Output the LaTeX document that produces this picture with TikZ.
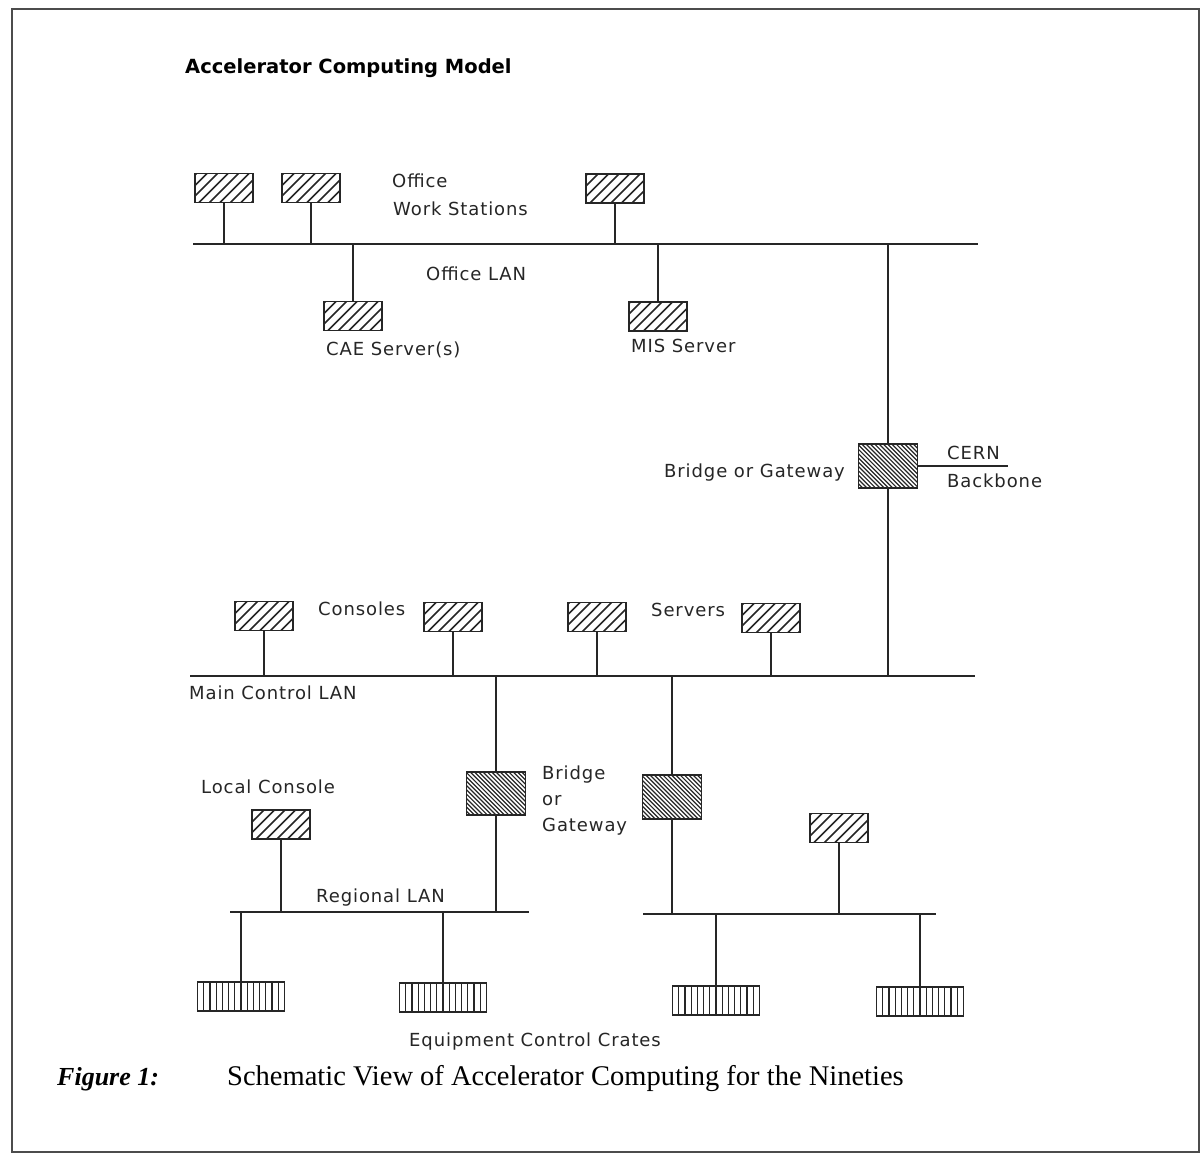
\documentclass[tikz,border=0pt]{standalone}
\usepackage{fontspec}
\setmainfont{Liberation Serif}
\newfontfamily\labfont[LetterSpace=5]{DejaVu Sans}
\newfontfamily\titfont{DejaVu Sans}
\begin{document}
\begin{tikzpicture}[x=1pt,y=-1pt,
  lan/.style={line width=2.2pt,black!85},
  drop/.style={line width=1.8pt,black!85},
  wsbox/.style={draw=black!85,line width=1.7pt,rectangle,inner sep=0pt,outer sep=0pt,
    minimum width=58pt,minimum height=29pt,
    path picture={\foreach \k in {-5,...,5}
      \draw[line width=1.5pt,black!85,shift={(path picture bounding box.center)}]
        (\k*10.5-18,18) -- ++(36,-36);}},
  gwbox/.style={draw=black!85,line width=1.7pt,rectangle,inner sep=0pt,outer sep=0pt,
    minimum width=59pt,minimum height=44pt,
    path picture={\foreach \k in {-13,...,13}
      \draw[line width=1.2pt,black!85,shift={(path picture bounding box.center)}]
        (\k*4.3-25,-25) -- ++(50,50);}},
  cratebox/.style={draw=black!85,line width=1.6pt,rectangle,inner sep=0pt,outer sep=0pt,
    minimum width=87pt,minimum height=29pt,
    path picture={\foreach \k in {-6,...,6}
      \draw[line width=1.2pt,black!85,shift={(path picture bounding box.center)}]
        (\k*6.2,-16) -- (\k*6.2,16);}},
  lab/.style={anchor=base west,inner sep=0pt,text=black!85,font=\labfont\fontsize{18}{22}\selectfont},
]
\useasboundingbox (0,0) rectangle (1202,1159);
\fill[white] (0,0) rectangle (1202,1159);
\draw[line width=1.5pt,black!70] (12,9) rectangle (1199,1152);

% title
\node[anchor=base west,inner sep=0pt,font=\titfont\bfseries\fontsize{19.5}{23}\selectfont] (title) at (185,73) {Accelerator Computing Model};

% Office LAN
\coordinate (olanL) at (193,244);
\coordinate (olanR) at (978,244);
\draw[lan] (olanL) -- (olanR);
\node[wsbox] (ws1) at (224,188) {};
\node[wsbox] (ws2) at (311,188) {};
\node[wsbox] (ws3) at (615,188.5) {};
\node[wsbox] (cae) at (353,316) {};
\node[wsbox] (mis) at (658,316.5) {};
\draw[drop] (ws1.south) -- (ws1.south |- olanL);
\draw[drop] (ws2.south) -- (ws2.south |- olanL);
\draw[drop] (ws3.south) -- (ws3.south |- olanL);
\draw[drop] (cae.north) -- (cae.north |- olanL);
\draw[drop] (mis.north) -- (mis.north |- olanL);
\node[lab] (tOffice) at (392,187) {Office};
\node[lab] (tWork) at (393,215) {Work Stations};
\node[lab] (tOLAN) at (426,280) {Office LAN};
\node[lab] (tCAE) at (326,355) {CAE Server(s)};
\node[lab] (tMIS) at (631,352) {MIS Server};

% bridge to CERN
\node[gwbox] (gw1) at (888,466) {};
\coordinate (cernR) at (1008,466);
\draw[drop] (gw1.east) -- (cernR);
\node[lab] (tBG1) at (664,477) {Bridge or Gateway};
\node[lab] (tCERN) at (947,459) {CERN};
\node[lab] (tBack) at (947,487) {Backbone};

% Main control LAN
\coordinate (mlanL) at (190,676);
\coordinate (mlanR) at (975,676);
\draw[lan] (mlanL) -- (mlanR);
\draw[drop] (gw1.north) -- (gw1.north |- olanL);
\draw[drop] (gw1.south) -- (gw1.south |- mlanL);
\node[wsbox] (con1) at (264,616) {};
\node[wsbox] (con2) at (453,617) {};
\node[wsbox] (srv1) at (597,617) {};
\node[wsbox] (srv2) at (771,618) {};
\draw[drop] (con1.south) -- (con1.south |- mlanL);
\draw[drop] (con2.south) -- (con2.south |- mlanL);
\draw[drop] (srv1.south) -- (srv1.south |- mlanL);
\draw[drop] (srv2.south) -- (srv2.south |- mlanL);
\node[lab] (tCons) at (318,615) {Consoles};
\node[lab] (tServ) at (651,616) {Servers};
\node[lab] (tMLAN) at (189,699) {Main Control LAN};

% regional LAN 1
\coordinate (rlanL) at (230,912);
\coordinate (rlanR) at (529,912);
\draw[lan] (rlanL) -- (rlanR);
\node[gwbox,minimum height=43pt] (gw2) at (496,793.5) {};
\draw[drop] (gw2.north) -- (gw2.north |- mlanL);
\draw[drop] (gw2.south) -- (gw2.south |- rlanL);
\node[lab] (tBr) at (542,779) {Bridge};
\node[lab] (tOr) at (542,805) {or};
\node[lab] (tGw) at (542,831) {Gateway};
\node[wsbox] (lc) at (281,824.5) {};
\draw[drop] (lc.south) -- (lc.south |- rlanL);
\node[lab] (tLC) at (201,793) {Local Console};
\node[lab] (tRLAN) at (316,902) {Regional LAN};
\node[cratebox] (cr1) at (241,996.5) {};
\node[cratebox] (cr2) at (443,997.5) {};
\draw[drop] (cr1.north) -- (cr1.north |- rlanL);
\draw[drop] (cr2.north) -- (cr2.north |- rlanL);

% regional LAN 2
\coordinate (r2L) at (643,914);
\coordinate (r2R) at (936,914);
\draw[lan] (r2L) -- (r2R);
\node[gwbox] (gw3) at (672,797) {};
\draw[drop] (gw3.north) -- (gw3.north |- mlanL);
\draw[drop] (gw3.south) -- (gw3.south |- r2L);
\node[wsbox] (rws) at (839,828) {};
\draw[drop] (rws.south) -- (rws.south |- r2L);
\node[cratebox] (cr3) at (716,1000.5) {};
\node[cratebox] (cr4) at (920,1001.5) {};
\draw[drop] (cr3.north) -- (cr3.north |- r2L);
\draw[drop] (cr4.north) -- (cr4.north |- r2L);
\node[lab] (tEq) at (409,1046) {Equipment Control Crates};

% caption
\node[anchor=base west,inner sep=0pt,font=\itshape\bfseries\fontsize{26}{30}\selectfont] (capA) at (57,1085) {Figure 1:};
\node[anchor=base west,inner sep=0pt,font=\fontsize{28.5}{33}\selectfont] (capB) at (227,1085) {Schematic View of Accelerator Computing for the Nineties};
\end{tikzpicture}
\end{document}
